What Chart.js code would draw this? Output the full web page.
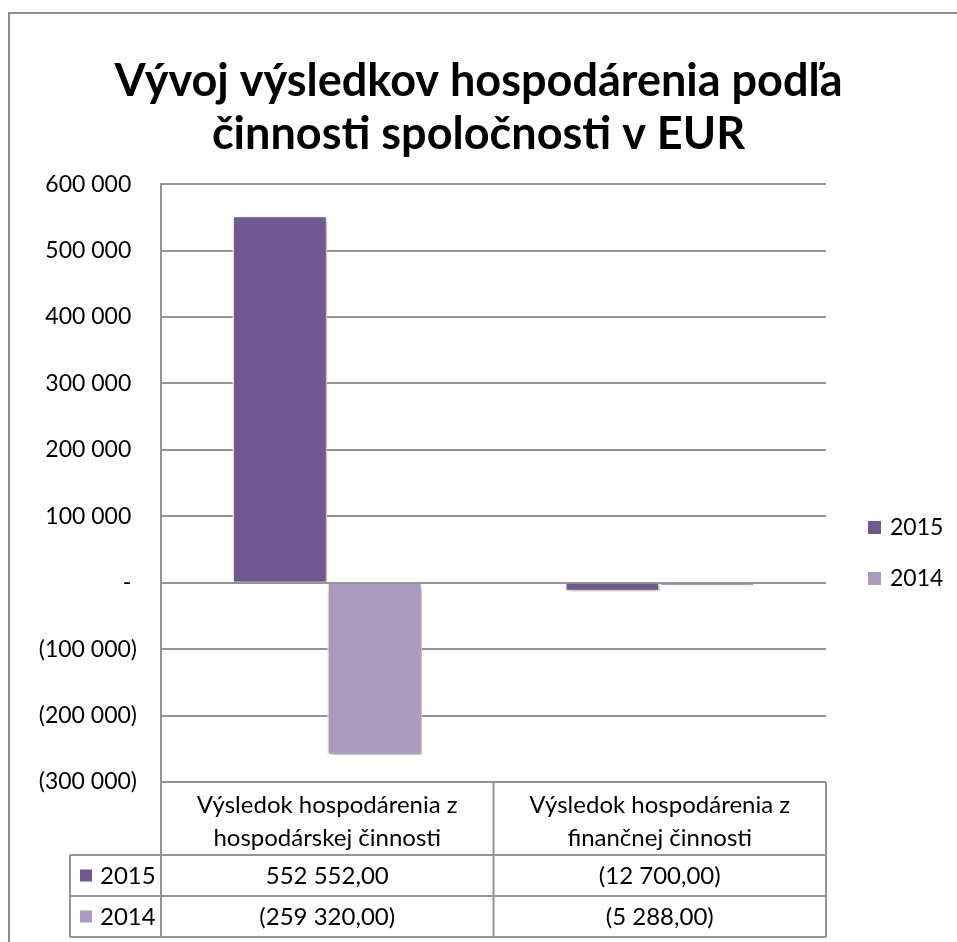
<!DOCTYPE html>
<html>
<head>
<meta charset="utf-8">
<script src="https://cdn.jsdelivr.net/npm/chart.js@4/dist/chart.umd.min.js"></script>
<style>
  body { margin: 0; background: #fff; }
  canvas { display: block; }
</style>
</head>
<body>
<canvas id="chart-area" width="957" height="942"></canvas>
<script>
var categories = [
    ['Výsledok hospodárenia z', 'hospodárskej činnosti'],
    ['Výsledok hospodárenia z', 'finančnej činnosti']
];
var seriesNames = ['2015', '2014'];
var values2015 = [552552, -12700];
var values2014 = [-259320, -5288];
var yMin = -300000, yMax = 600000, yStep = 100000;

var colors = ['#71588f', '#a99bbd'];
var lineColor = '#949494';
var fontName = 'Lato, Carlito, "Open Sans", sans-serif';

// 552552 -> "552 552,00", negatives in brackets
function fmtNum(v, dec) {
    var s = Math.abs(v).toFixed(dec).split('.');
    var intPart = s[0].replace(/\B(?=(\d{3})+(?!\d))/g, ' ');
    var txt = dec > 0 ? intPart + ',' + s[1] : intPart;
    return v < 0 ? '(' + txt + ')' : txt;
}

function tickLabel(v) {
    if (v === 0) return '-\u2005';
    if (v < 0) return fmtNum(v, 0);
    return fmtNum(v, 0) + '\u2005';
}

var tablePlugin = {
    id: 'dataTable',
    beforeDraw: function(chart) {
        var ctx = chart.ctx;
        ctx.save();
        ctx.fillStyle = '#fff';
        ctx.fillRect(0, 0, chart.width, chart.height);
        ctx.strokeStyle = '#8c8c8c';
        ctx.lineWidth = 2;
        ctx.strokeRect(9, 13, chart.width + 50, chart.height + 50);
        ctx.restore();
    },
    beforeDatasetsDraw: function(chart) {
        var ctx = chart.ctx;
        ctx.save();
        ctx.shadowColor = 'rgba(0,0,0,0.35)';
        ctx.shadowBlur = 6;
        ctx.shadowOffsetX = 2;
        ctx.shadowOffsetY = 3;
    },
    afterDatasetsDraw: function(chart) {
        chart.ctx.restore();
    },
    afterDraw: function(chart) {
        var ctx = chart.ctx;
        var area = chart.chartArea;
        var xs = chart.scales.x;
        var top = area.bottom;
        var headH = 73, rowH = 41, rowLeft = 70;
        var bottom = top + headH + rowH * seriesNames.length;
        var mid = (xs.getPixelForValue(0) + xs.getPixelForValue(1)) / 2;
        var rows = [values2015, values2014];

        ctx.save();
        ctx.strokeStyle = lineColor;
        ctx.lineWidth = 2;
        ctx.beginPath();
        [area.left, mid, area.right].forEach(function(x) {
            ctx.moveTo(x, top);
            ctx.lineTo(x, bottom);
        });
        ctx.moveTo(area.left, top);
        ctx.lineTo(area.right, top);
        ctx.moveTo(rowLeft, top + headH);
        ctx.lineTo(rowLeft, bottom);
        for (var r = 0; r <= rows.length; r++) {
            ctx.moveTo(rowLeft, top + headH + r * rowH);
            ctx.lineTo(area.right, top + headH + r * rowH);
        }
        ctx.stroke();

        ctx.fillStyle = '#000';
        ctx.font = '24px ' + fontName;
        ctx.textBaseline = 'middle';
        ctx.textAlign = 'center';
        categories.forEach(function(lines, i) {
            var cx = xs.getPixelForValue(i);
            lines.forEach(function(t, k) {
                ctx.fillText(t, cx, top + 23 + k * 33);
            });
        });

        rows.forEach(function(vals, r) {
            var cy = top + headH + r * rowH + rowH / 2;
            ctx.fillStyle = colors[r];
            ctx.fillRect(rowLeft + 10, cy - 6, 12, 12);
            ctx.fillStyle = '#000';
            ctx.textAlign = 'left';
            ctx.fillText(seriesNames[r], rowLeft + 30, cy + 1);
            ctx.textAlign = 'center';
            vals.forEach(function(v, i) {
                ctx.fillText(fmtNum(v, 2), xs.getPixelForValue(i), cy + 1);
            });
        });

        // legend
        ctx.font = '23px ' + fontName;
        seriesNames.forEach(function(name, r) {
            var ly = 527 + r * 51;
            var lx = area.right + 42;
            ctx.fillStyle = colors[r];
            ctx.fillRect(lx, ly - 6, 13, 13);
            ctx.fillStyle = '#000';
            ctx.textAlign = 'left';
            ctx.fillText(name, lx + 22, ly + 1);
        });
        ctx.restore();
    }
};

var config = {
    type: 'bar',
    data: {
        labels: categories,
        datasets: [{
            label: seriesNames[0],
            data: values2015,
            backgroundColor: colors[0],
            borderColor: '#fff',
            borderWidth: 1.5
        }, {
            label: seriesNames[1],
            data: values2014,
            backgroundColor: colors[1],
            borderColor: '#fff',
            borderWidth: 1.5
        }]
    },
    options: {
        responsive: false,
        animation: false,
        categoryPercentage: 0.57,
        barPercentage: 1.0,
        layout: {
            padding: { left: 0, top: 0, right: 0, bottom: 5 }
        },
        plugins: {
            legend: { display: false },
            tooltip: { enabled: false },
            title: {
                display: true,
                text: ['Vývoj výsledkov hospodárenia podľa', 'činnosti spoločnosti v EUR'],
                color: '#000',
                font: { family: fontName, size: 45, weight: 'bold', lineHeight: 1.18 },
                padding: { top: 55, bottom: 23 }
            }
        },
        scales: {
            x: {
                grid: { display: false },
                border: { display: false },
                ticks: { display: false },
                afterFit: function(s) { s.height = 155; }
            },
            y: {
                min: yMin,
                max: yMax,
                afterFit: function(s) { s.width = 161; },
                grid: { color: lineColor, lineWidth: 2, drawTicks: false },
                border: { color: lineColor, width: 2 },
                ticks: {
                    stepSize: yStep,
                    padding: 24,
                    color: '#000',
                    font: { family: fontName, size: 23 },
                    callback: function(v) { return tickLabel(v); }
                }
            },
            // empty right axis, keeps room for the legend
            yRight: {
                position: 'right',
                min: yMin,
                max: yMax,
                afterFit: function(s) { s.width = 131; },
                grid: { drawOnChartArea: false, drawTicks: false },
                border: { display: false },
                ticks: { display: false }
            }
        }
    },
    plugins: [tablePlugin]
};

window.onload = function() {
    var ctx = document.getElementById('chart-area').getContext('2d');
    window.myBar = new Chart(ctx, config);
};
</script>
</body>
</html>
